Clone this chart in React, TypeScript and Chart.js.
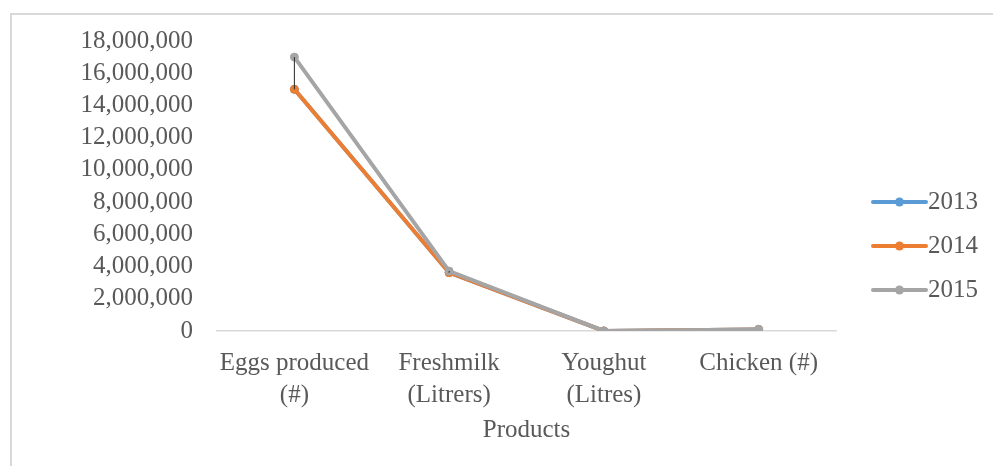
import React, { useEffect, useRef } from "react";
import { Chart, registerables } from "chart.js";

Chart.register(...registerables);

const categories: (string | string[])[] = [
  ["Eggs produced", "(#)"],
  ["Freshmilk", "(Litrers)"],
  ["Youghut", "(Litres)"],
  "Chicken (#)",
];
const seriesNames = ["2013", "2014", "2015"];
const values2013 = [15000000, 3620000, 5000, 100000];
const values2014 = [15000000, 3620000, 5000, 100000];
const values2015 = [17000000, 3720000, 5000, 100000];
const yTickMin = 0;
const yTickMax = 18000000;
const yTickStep = 2000000;
const xTitle = "Products";

const colors = ["#5B9BD5", "#ED7D31", "#A5A5A5"];
const textColor = "#595959";
const fontFamily = "'Liberation Serif', 'Times New Roman', serif";

const highLowPlugin = {
  id: "highLow",
  afterDatasetsDraw(chart: any) {
    const { ctx } = chart;
    const xs = chart.scales.x;
    const ys = chart.scales.y;
    const n = chart.data.labels.length;
    ctx.save();
    ctx.strokeStyle = "#262626";
    ctx.lineWidth = 1;
    for (let i = 0; i < n; i++) {
      const vals = chart.data.datasets.map((d: any) => d.data[i] as number);
      const hi = Math.max(...vals);
      const lo = Math.min(...vals);
      const x = xs.getPixelForValue(i);
      ctx.beginPath();
      ctx.moveTo(x, ys.getPixelForValue(hi));
      ctx.lineTo(x, ys.getPixelForValue(lo));
      ctx.stroke();
    }
    ctx.restore();
  },
};

const legendLinePlugin = {
  id: "legendLine",
  afterDraw(chart: any) {
    const lg = chart.legend;
    if (!lg || !lg.legendHitBoxes) return;
    const { ctx } = chart;
    ctx.save();
    lg.legendItems.forEach((item: any, i: number) => {
      const hb = lg.legendHitBoxes[i];
      const color = chart.data.datasets[item.datasetIndex].borderColor;
      const cy = hb.top + hb.height / 2;
      ctx.strokeStyle = color;
      ctx.fillStyle = color;
      ctx.lineWidth = 4;
      ctx.lineCap = "round";
      ctx.beginPath();
      ctx.moveTo(hb.left + 18, cy);
      ctx.lineTo(hb.left + 71, cy);
      ctx.stroke();
      ctx.beginPath();
      ctx.arc(hb.left + 44.5, cy, 4.5, 0, Math.PI * 2);
      ctx.fill();
    });
    ctx.restore();
  },
};

export default function App() {
  const ref = useRef<HTMLCanvasElement | null>(null);
  useEffect(() => {
    if (!ref.current) return;
    Chart.defaults.font.family = fontFamily;
    const all = [values2013, values2014, values2015];
    const order = [2, 1, 0];
    const chart = new Chart(ref.current, {
      type: "line",
      data: {
        labels: categories,
        datasets: order.map((k) => ({
          label: seriesNames[k],
          data: all[k],
          borderColor: colors[k],
          backgroundColor: colors[k],
          borderWidth: 4,
          pointRadius: 4,
          pointBorderWidth: 1,
          pointBackgroundColor: colors[k],
          pointBorderColor: colors[k],
          tension: 0,
          fill: false,
        })),
      },
      options: {
        responsive: false,
        animation: false,
        layout: { padding: { left: 0, right: 5, top: 19, bottom: 15 } },
        plugins: {
          tooltip: { enabled: false },
          legend: {
            position: "right",
            reverse: true,
            labels: {
              boxWidth: 60.5,
              boxHeight: 4,
              padding: 19,
              color: textColor,
              font: { family: fontFamily, size: 25 },
              generateLabels: (c: any) =>
                Chart.defaults.plugins.legend.labels
                  .generateLabels(c)
                  .map((it: any) => ({
                    ...it,
                    fillStyle: "rgba(0,0,0,0)",
                    strokeStyle: "rgba(0,0,0,0)",
                    lineWidth: 0,
                  })),
            },
          },
        },
        scales: {
          x: {
            offset: true,
            afterFit: (s: any) => {
              s.height = 120;
            },
            grid: { display: true, color: "rgba(0,0,0,0)", drawTicks: false, drawOnChartArea: false },
            border: { display: true, color: "#d9d9d9", width: 1.5 },
            ticks: {
              color: textColor,
              padding: 16,
              maxRotation: 0,
              autoSkip: false,
              font: { family: fontFamily, size: 25, lineHeight: 1.28 },
            },
            title: {
              display: true,
              text: xTitle,
              color: textColor,
              font: { family: fontFamily, size: 25, lineHeight: 1.2 },
              padding: { top: 4, bottom: 6 },
            },
          },
          y: {
            min: yTickMin,
            max: yTickMax,
            afterFit: (s: any) => {
              s.width = 205;
              s.paddingTop = 0;
              s.paddingBottom = 0;
            },
            grid: { display: false, drawTicks: false },
            border: { display: false },
            ticks: {
              stepSize: yTickStep,
              autoSkip: false,
              color: textColor,
              padding: 24,
              font: { family: fontFamily, size: 25, lineHeight: 1 },
              callback: (v: any) => Number(v).toLocaleString("en-US"),
            },
          },
        },
      },
      plugins: [highLowPlugin, legendLinePlugin],
    });
    return () => chart.destroy();
  }, []);

  return (
    <div style={{ position: "fixed", left: 0, top: 0, width: 993, height: 466, overflow: "hidden", background: "#fff" }}>
      <div
        style={{
          position: "absolute",
          left: 10,
          top: 13,
          width: 1100,
          height: 600,
          border: "2px solid #d9d9d9",
          boxSizing: "border-box",
        }}
      />
      <canvas
        ref={ref}
        width={981}
        height={444}
        style={{ position: "absolute", left: 12, top: 22, width: 981, height: 444 }}
      />
    </div>
  );
}
